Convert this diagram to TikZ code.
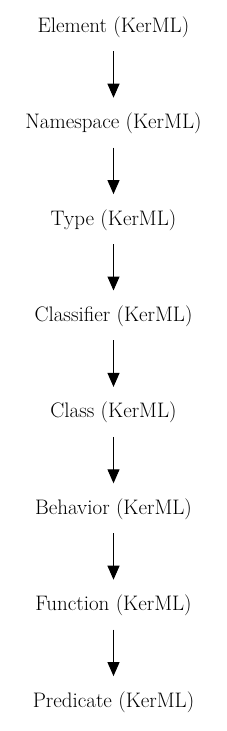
\documentclass[tikz,border=0pt]{standalone}
\usetikzlibrary{positioning,arrows.meta}
\begin{document}
\begin{tikzpicture}[x=1pt,y=1pt,
  box/.style={minimum height=48pt,inner sep=0pt,font=\fontsize{21}{24}\selectfont},
  link/.style={line width=1pt,-{Triangle[length=14pt,width=12pt]},shorten >=1.5pt},
  node distance=48pt]

\useasboundingbox (0,0) rectangle (227,-731);

% Chaine des generalisations
\node[box] (element) at (113.5,-27) {Element (KerML)};
\node[box,below=of element] (namespace) {Namespace (KerML)};
\node[box,below=of namespace] (type) {Type (KerML)};
\node[box,below=of type] (classifier) {Classifier (KerML)};
\node[box,below=of classifier] (class) {Class (KerML)};
\node[box,below=of class] (behavior) {Behavior (KerML)};
\node[box,below=of behavior] (function) {Function (KerML)};
\node[box,below=of function] (predicate) {Predicate (KerML)};

% Fleches
\draw[link] (element) -- (namespace);
\draw[link] (namespace) -- (type);
\draw[link] (type) -- (classifier);
\draw[link] (classifier) -- (class);
\draw[link] (class) -- (behavior);
\draw[link] (behavior) -- (function);
\draw[link] (function) -- (predicate);

\end{tikzpicture}
\end{document}
